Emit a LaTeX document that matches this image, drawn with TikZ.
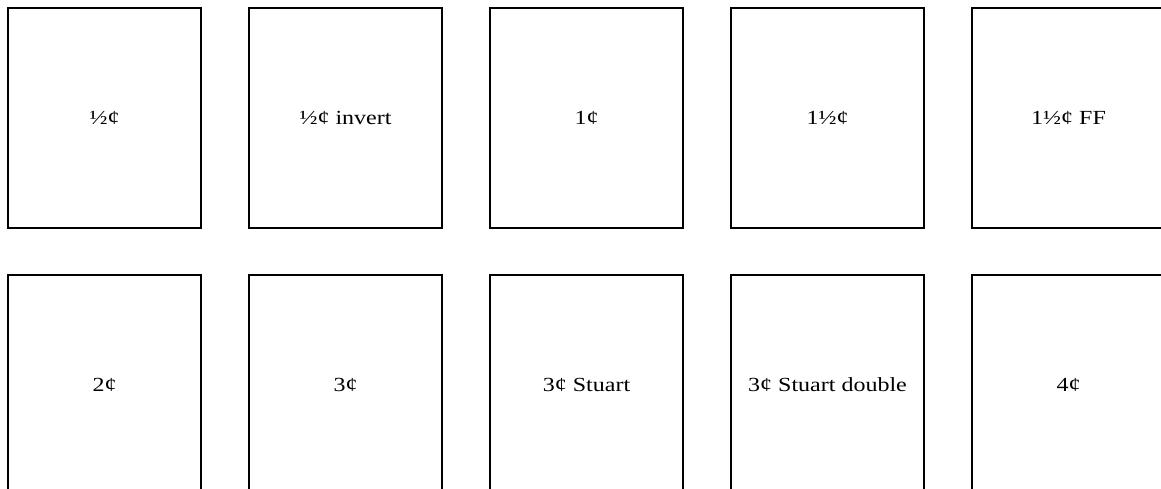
\documentclass[tikz,border=0pt]{standalone}
\usepackage{fontspec}
\usepackage{graphicx}
\setmainfont{Liberation Serif}
\newcommand{\stamplabel}[1]{\scalebox{1.2}[1]{#1}}
\begin{document}
\begin{tikzpicture}[x=1pt,y=-1pt,
  stampbox/.style={draw=black, line width=2pt, minimum width=193pt, minimum height=220pt, inner sep=0pt, font=\fontsize{20}{24}\selectfont, anchor=center}]
\useasboundingbox (0,0) rectangle (1161,488);
\clip (0,0) rectangle (1161,488);
\node[stampbox] (a1) at (104.5,118) {\stamplabel{½¢}};
\node[stampbox] (a2) at (345.5,118) {\stamplabel{½¢ invert}};
\node[stampbox] (a3) at (586.5,118) {\stamplabel{1¢}};
\node[stampbox] (a4) at (827.5,118) {\stamplabel{1½¢}};
\node[stampbox] (a5) at (1068.5,118) {\stamplabel{1½¢ FF}};
\node[stampbox] (b1) at (104.5,385) {\stamplabel{2¢}};
\node[stampbox] (b2) at (345.5,385) {\stamplabel{3¢}};
\node[stampbox] (b3) at (586.5,385) {\stamplabel{3¢ Stuart}};
\node[stampbox] (b4) at (827.5,385) {\stamplabel{3¢ Stuart double}};
\node[stampbox] (b5) at (1068.5,385) {\stamplabel{4¢}};
\end{tikzpicture}
\end{document}
